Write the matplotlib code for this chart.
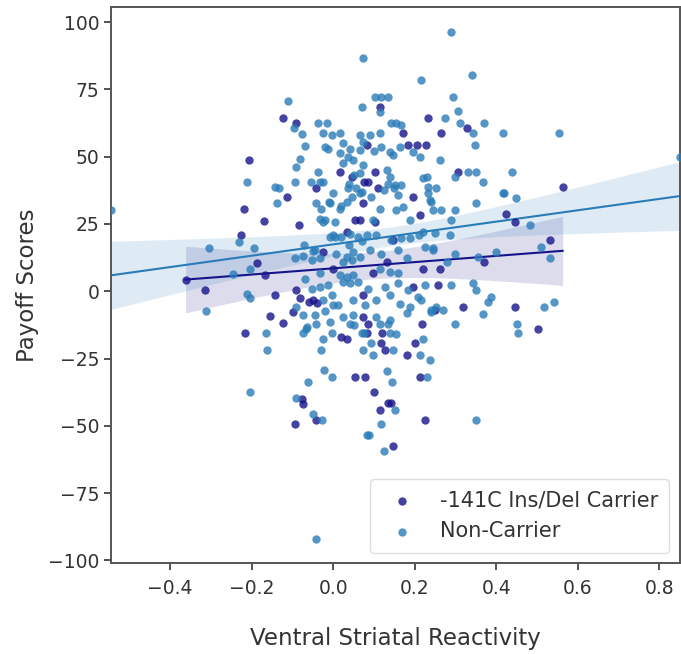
import matplotlib.pyplot as plt
import numpy as np

# carrier points (x = ventral striatal reactivity, y = payoff score)
carrier_x = [-0.124, -0.091, 0.082, -0.206, -0.114, -0.041, 0.086, 0.116, 0.233, 0.328,
             0.265, 0.171, 0.184, 0.206, 0.228, 0.102, 0.306, 0.563, 0.075, 0.11,
             0.196, -0.218, -0.169, -0.083, -0.227, -0.188, -0.167, -0.314, -0.143, -0.155,
             -0.124, -0.098, -0.09, -0.026, 0.0, 0.073, 0.053, 0.065, 0.033, -0.362,
             0.425, 0.445, 0.532, 0.371, 0.447, 0.318, 0.25, 0.257, 0.261, 0.22,
             0.212, 0.147, 0.102, -0.216, 0.02, 0.033, 0.053, 0.078, -0.077, -0.073,
             -0.041, -0.094, 0.086, 0.219, 0.502, 0.082, 0.12, 0.118, 0.2, 0.127,
             0.18, 0.212, 0.1, 0.135, 0.143, 0.116, 0.226, 0.147, 0.016, 0.045,
             0.131, 0.098, 0.196, -0.049, 0.073, 0.073, -0.082, -0.06, -0.04]
carrier_y = [64.2, 62.6, 54.3, 48.7, 35.0, 38.4, 40.6, 68.3, 64.2, 60.5,
             58.6, 58.6, 54.3, 54.3, 54.3, 44.4, 44.4, 38.8, 40.4, 38.4,
             35.0, 30.4, 26.1, 24.5, 20.8, 10.5, 5.9, 0.6, -1.5, -9.3,
             -11.8, -7.7, 0.4, 14.6, 8.4, 32.6, 26.4, 26.4, 22.0, 4.3,
             28.6, 25.8, 19.0, 10.9, -5.8, -5.8, -7.0, 2.2, 8.4, 8.4,
             28.3, 19.0, 25.8, -15.7, -17.0, -17.6, -31.9, -31.9, -39.9, -42.0,
             -47.7, -49.4, -12.0, -12.0, -13.9, -15.7, -15.7, -19.4, -19.4, -21.9,
             -23.8, -31.9, -37.4, -41.7, -41.7, -44.0, -47.7, -57.6, 44.4, 42.5,
             10.9, 6.6, 1.6, -3.3, -1.5, -9.6, -2.5, -4.0, -4.2]

# non-carrier points
noncarrier_x = [0.072, -0.112, 0.07, -0.096, -0.077, -0.037, -0.016, -0.025, -0.004, 0.016,
                -0.069, -0.02, 0.065, -0.082, -0.091, -0.212, -0.143, -0.133, -0.094, -0.055,
                -0.033, -0.037, 0.0, 0.04, 0.05, 0.07,
                0.288, 0.216, 0.341, 0.102, 0.118, 0.135, 0.116, 0.294, 0.306, 0.274,
                0.31, 0.343, 0.371, 0.416, 0.553, 0.347, 0.143, 0.155, 0.114, 0.09,
                0.147, 0.1, 0.261, 0.33, 0.35, 0.298, 0.367, 0.439, 0.135, 0.15,
                0.125, 0.22, 0.416,
                -0.137, -0.23, -0.304, -0.194, -0.204, -0.245, -0.312, -0.212, -0.204, -0.069,
                -0.053, -0.094, -0.075, -0.072, -0.05, -0.033, -0.008, 0.004, -0.025, 0.004,
                -0.03, -0.01, 0.02, 0.035, 0.04, 0.07, 0.0, -0.065, -0.09, -0.075,
                -0.045, -0.02,
                0.35, 0.42, 0.449, 0.482, 0.51, 0.531, 0.4, 0.355, 0.3, 0.28,
                0.29, 0.343, 0.351, 0.388, 0.38, 0.518, 0.543, 0.24, 0.29, 0.298,
                0.245, 0.24, 0.286, 0.245, 0.367,
                -0.165, -0.163, -0.073, -0.067, -0.041, -0.024, -0.031, -0.004, 0.05, 0.07,
                0.073, -0.023, -0.002, -0.061, -0.204, -0.09, -0.049, -0.028, 0.083, -0.042,
                0.135, 0.298, 0.451, 0.453, 0.075, 0.14, 0.155, 0.094, 0.22, 0.098,
                0.147, 0.212, 0.237, 0.132, 0.145, 0.229, 0.151, 0.35, 0.118, 0.088,
                0.124,
                0.167, -0.012, 0.024, 0.041, 0.073, 0.065, 0.118, 0.139, 0.163, 0.196,
                0.212, -0.025, 0.016, 0.024, 0.037, 0.049, 0.065, 0.073, 0.131, 0.139,
                0.037, 0.057, -0.008, 0.016, 0.045, 0.065, 0.094, 0.114, 0.151, 0.159,
                0.167, 0.171, 0.155, 0.229, 0.233, 0.233, 0.237, 0.253, -0.033, -0.02,
                0.098, 0.188, 0.265, -0.041,
                0.0, 0.02, 0.041, 0.061, 0.082, 0.106, 0.143, 0.167, 0.188, 0.21,
                0.22, 0.25, -0.045, 0.008, 0.033, 0.049, 0.065, 0.09, 0.118, 0.159,
                0.18, 0.225, 0.245, -0.053, -0.033, 0.024, 0.045, 0.114, 0.139, 0.159,
                0.225, 0.184, 0.159, 0.127, 0.016, 0.033, 0.049, 0.024, 0.041, 0.061,
                0.086, -0.033, -0.012, -0.025, -0.004, 0.012, 0.049, 0.078, 0.106, 0.139,
                0.163, 0.188, 0.208, 0.216, 0.253, 0.269, -0.008, 0.024, 0.049, 0.041,
                0.106, 0.114, 0.139, 0.18, 0.241,
                -0.545, 0.85]
noncarrier_y = [86.7, 70.6, 68.5, 60.5, 58.4, 62.6, 62.6, 58.7, 58.0, 58.7,
                54.0, 53.6, 58.0, 49.0, 46.2, 40.4, 38.8, 38.4, 40.4, 40.4,
                40.4, 44.4, 36.3, 40.0, 43.0, 37.0,
                96.4, 78.4, 80.3, 72.2, 72.2, 72.2, 66.6, 72.2, 67.0, 64.2,
                62.3, 58.6, 62.3, 58.6, 58.6, 54.3, 62.3, 62.3, 58.6, 58.0,
                50.6, 52.0, 48.7, 44.4, 44.4, 42.5, 40.4, 44.4, 40.0, 38.5,
                37.5, 42.0, 36.3,
                32.8, 18.3, 16.2, 16.2, 8.4, 6.3, -7.3, -0.9, -2.7, 4.7,
                1.0, 12.2, 13.0, 17.0, 15.0, 6.6, 20.2, 20.2, 25.8, 25.8,
                30.5, 33.0, 31.5, 33.0, 17.0, 18.5, -5.2, -13.3, -6.0, -9.0,
                -9.0, -7.5,
                32.6, 36.3, 34.5, 24.5, 16.5, 12.2, 14.6, 12.8, 14.0, 11.0,
                26.4, 2.9, 0.4, -2.1, -4.0, -5.8, -4.0, -7.0, 2.2, 30.1,
                30.0, 33.0, 20.8, 15.2, -8.3,
                -15.7, -21.9, -15.7, -13.9, -12.0, -17.6, -21.9, -15.7, -12.5, -15.7,
                -21.9, -29.4, -31.9, -33.7, -37.4, -39.5, -45.5, -47.7, -53.5, -92.0,
                -12.0, -12.0, -12.0, -15.7, -15.5, -15.7, -16.0, -19.4, -17.6, -23.8,
                -21.9, -23.8, -25.6, -29.6, -33.7, -31.9, -44.0, -47.7, -49.4, -53.5,
                -59.5,
                61.7, 53.0, 54.9, 53.0, 55.5, 52.4, 53.6, 51.8, 53.6, 51.8,
                49.9, 40.6, 51.2, 47.5, 49.9, 48.7, 43.8, 46.8, 45.0, 42.5,
                38.2, 38.2, 32.6, 30.7, 35.0, 36.3, 35.0, 30.7, 39.4, 35.7,
                39.4, 31.3, 30.1, 42.5, 38.8, 36.3, 33.8, 38.2, 27.0, 26.4,
                26.4, 26.4, 30.1, 32.6,
                20.8, 20.2, 21.4, 20.2, 20.8, 20.8, 19.0, 19.6, 19.6, 21.0,
                22.0, 21.5, 15.2, 14.0, 12.8, 14.6, 12.8, 15.2, 14.0, 15.2,
                12.2, 16.5, 15.9, 11.5, 12.2, 10.9, 11.5, 8.4, 7.2, 6.6,
                2.2, 0.4, 2.9, 1.6, 5.9, 5.3, 5.9, 3.5, 2.9, 3.5,
                1.0, 1.6, 2.2, -3.3, -1.5, -5.2, -3.3, -5.2, -3.3, -1.5,
                -4.6, -5.8, -2.1, -3.3, -5.8, -7.1, -11.4, -9.6, -8.9, -12.0,
                -9.6, -12.0, -10.8, -8.0, -7.7,
                30.0, 50.0]

# regression fits: intercept, slope
carrier_fit = (8.5, 11.55)
noncarrier_fit = (17.4, 21.1)
# confidence band: half width at narrowest point, growth, centre x
carrier_ci = (5.0, 25.0, 0.09)
noncarrier_ci = (3.5, 17.5, 0.15)

carrier_color = '#16148a'
noncarrier_color = '#2a7cb8'

fig = plt.figure(figsize=(6.81, 6.54), dpi=100)
ax = fig.add_axes([0.163, 0.139, 0.835, 0.85])

xmin, xmax = -0.545, 0.85


def draw_fit(xs, fit, ci, color):
    grid = np.linspace(xs[0], xs[1], 100)
    line = fit[0] + fit[1] * grid
    hw = np.sqrt(ci[0] ** 2 + (ci[1] * (grid - ci[2])) ** 2)
    ax.fill_between(grid, line - hw, line + hw, color=color, alpha=0.15, lw=0)
    ax.plot(grid, line, color=color, lw=1.5)


ax.scatter(carrier_x, carrier_y, s=36, color=carrier_color, alpha=0.8, lw=0,
           label='-141C Ins/Del Carrier', zorder=3)
ax.scatter(noncarrier_x, noncarrier_y, s=36, color=noncarrier_color, alpha=0.8, lw=0,
           label='Non-Carrier', zorder=3)
draw_fit((min(carrier_x), max(carrier_x)), carrier_fit, carrier_ci, carrier_color)
draw_fit((xmin, xmax), noncarrier_fit, noncarrier_ci, noncarrier_color)

ax.set_xlim(xmin, xmax)
ax.set_ylim(-101, 105.5)
ax.set_xticks([-0.4, -0.2, 0.0, 0.2, 0.4, 0.6, 0.8])
ax.set_yticks([-100, -75, -50, -25, 0, 25, 50, 75, 100])
ax.tick_params(labelsize=13.5, length=5, width=1.2, colors='#333333', labelcolor='#333333')
ax.tick_params(axis='x', pad=6.5)
for s in ax.spines.values():
    s.set_linewidth(1.4)
    s.set_color('#555555')

ax.set_xlabel('Ventral Striatal Reactivity', fontsize=16.5, color='#333333', labelpad=21)
ax.set_ylabel('Payoff Scores', fontsize=16.5, color='#333333', labelpad=6)

leg = ax.legend(loc='lower right', fontsize=15, markerscale=1.0, handletextpad=0.8,
                borderpad=0.55, labelspacing=0.5, framealpha=1.0, edgecolor='#dddddd')
for t in leg.get_texts():
    t.set_color('#333333')

fig.savefig('out.png', dpi=100)
